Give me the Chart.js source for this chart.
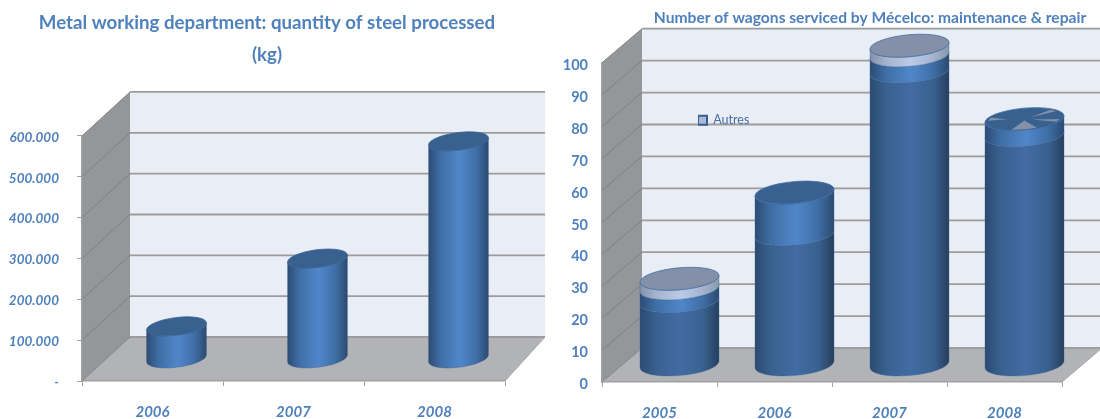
<!DOCTYPE html>
<html>
<head>
<meta charset="utf-8">
<script src="https://cdn.jsdelivr.net/npm/chart.js@4/dist/chart.umd.min.js"></script>
<style>
    html, body { margin: 0; padding: 0; background: #fff; overflow: hidden; }
    canvas { position: absolute; top: 0; filter: blur(0.35px); }
    #steelChart { left: 0; }
    #wagonChart { left: 550px; }
</style>
</head>
<body>
<canvas id="steelChart" width="550" height="419"></canvas>
<canvas id="wagonChart" width="550" height="419"></canvas>
<script>
const steelYears = ['2006', '2007', '2008'];
const steelKg = [80000, 246000, 533000];

const wagonYears = ['2005', '2006', '2007', '2008'];
const wagonsDark = [20, 41, 92, 72];
const wagonsMid = [4, 13, 5, 5];
const wagonsAutres = [3, 0, 3, 0];

const textBlue = '#4F81BD';
const midStops = ['#2C4C74', '#3F6EA5', '#5087CA', '#3F6EA5', '#2B4A70'];
const darkStops = ['#2B4A71', '#39618F', '#426CA3', '#39618F', '#263F5E'];
const autresStops = ['#8490A8', '#A5B3CE', '#BACAE8', '#A5B3CE', '#8799AB'];

// draws the walls, the grid on the back wall and the cylinders from the bar elements
const box3d = {
    id: 'box3d',
    afterLayout(chart, args, opts) {
        const t = chart.titleBlock;
        t.left = opts.titleX - 300;
        t.right = opts.titleX + 300;
        if (opts.legendAt) {
            const l = chart.legend;
            l.left = opts.legendAt[0];
            l.right = l.left + l.width;
            l.top = opts.legendAt[1];
            l.bottom = l.top + l.height;
        }
    },
    beforeDraw(chart, args, opts) {
        const ctx = chart.ctx;
        const a = chart.chartArea;
        const dx = opts.dx, dy = opts.dy;
        const backRight = a.right + dx - (opts.backInset || 0);
        ctx.save();
        ctx.fillStyle = '#94979A';
        poly(ctx, [[a.left, a.top], [a.left + dx, a.top + dy], [a.left + dx, a.bottom + dy], [a.left, a.bottom]]);
        ctx.fill();
        ctx.fillStyle = '#E9EDF6';
        ctx.fillRect(a.left + dx, a.top + dy, backRight - a.left - dx, a.bottom - a.top);
        ctx.fillStyle = '#B1B3B7';
        poly(ctx, [[a.left, a.bottom], [a.right, a.bottom], [backRight, a.bottom + dy], [a.left + dx, a.bottom + dy]]);
        ctx.fill();
        ctx.strokeStyle = '#A8A9AB';
        ctx.lineWidth = 1;
        ctx.beginPath();
        ctx.moveTo(a.right, a.bottom);
        ctx.lineTo(backRight, a.bottom + dy);
        ctx.stroke();

        const y = chart.scales.y;
        y.ticks.forEach(tick => {
            const py = y.getPixelForValue(tick.value);
            ctx.strokeStyle = '#7E8184';
            ctx.lineWidth = 1;
            ctx.beginPath();
            ctx.moveTo(a.left, py);
            ctx.lineTo(a.left + dx, py + dy);
            ctx.stroke();
            ctx.strokeStyle = '#9C9C9C';
            ctx.lineWidth = 1.8;
            ctx.beginPath();
            ctx.moveTo(a.left + dx, py + dy);
            ctx.lineTo(backRight, py + dy);
            ctx.stroke();
        });
        ctx.restore();
    },
    beforeDatasetsDraw(chart, args, opts) {
        const ctx = chart.ctx;
        const rot = -opts.tilt * Math.PI / 180;
        const n = chart.data.labels.length;
        for (let i = 0; i < n; i++) {
            let top = null;
            chart.data.datasets.forEach((ds, d) => {
                const bar = chart.getDatasetMeta(d).data[i];
                const p = bar.getProps(['x', 'y', 'base', 'width'], true);
                const cx = p.x + opts.dx / 2;
                const off = opts.dy / 2;
                const ra = p.width / 2 * 1.004;
                const rb = p.width * opts.flat;
                top = { cx, cy: p.y + off, ra, rb, ds, empty: ds.data[i] === 0, last: top };
                if (ds.data[i] === 0) return;
                const t0 = Math.atan(-(rb / ra) * Math.tan(rot));
                const g = ctx.createLinearGradient(cx - p.width / 2, 0, cx + p.width / 2, 0);
                [0, 0.2, 0.52, 0.8, 1].forEach((s, k) => g.addColorStop(s, ds.sideStops[k]));
                ctx.fillStyle = g;
                ctx.beginPath();
                ctx.ellipse(cx, p.y + off, ra, rb, rot, t0, t0 + Math.PI, false);
                ctx.ellipse(cx, p.base + off, ra, rb, rot, t0 + Math.PI, t0, true);
                ctx.closePath();
                ctx.fill();
                ctx.strokeStyle = ds.edgeColor;
                ctx.lineWidth = 0.6;
                ctx.stroke();
            });
            // top cap, on the highest series with a value
            let cap = top;
            while (cap.empty && cap.last) cap = cap.last;
            ctx.fillStyle = cap.ds.capColor;
            ctx.strokeStyle = opts.capEdge;
            ctx.lineWidth = 0.8;
            ctx.beginPath();
            ctx.ellipse(cap.cx, cap.cy, cap.ra, cap.rb, rot, 0, Math.PI * 2);
            ctx.fill();
            ctx.stroke();
            if (opts.wedgesOn === i) drawWedges(ctx, cap, rot);
        }
    },
    // the flat bars are replaced by the cylinders above
    beforeDatasetDraw() {
        return false;
    }
};

function poly(ctx, pts) {
    ctx.beginPath();
    pts.forEach((p, i) => i ? ctx.lineTo(p[0], p[1]) : ctx.moveTo(p[0], p[1]));
    ctx.closePath();
}

// grey slivers showing on the 2008 cap
function drawWedges(ctx, cap, rot) {
    const wedges = [[72, 112, 0.12], [18, 32, 0.2], [-44, -30, 0.2], [190, 206, 0.45]];
    ctx.save();
    ctx.translate(cap.cx, cap.cy);
    ctx.rotate(rot);
    ctx.scale(cap.ra, cap.rb);
    ctx.fillStyle = '#8490A8';
    wedges.forEach(w => {
        const a0 = w[0] * Math.PI / 180, a1 = w[1] * Math.PI / 180, mid = (a0 + a1) / 2;
        ctx.beginPath();
        ctx.moveTo(Math.cos(mid) * w[2], Math.sin(mid) * w[2]);
        ctx.arc(0, 0, 0.93, a0, a1);
        ctx.closePath();
        ctx.fill();
    });
    ctx.restore();
}

function axisX(height, size) {
    return {
        stacked: true,
        afterFit: s => { s.height = height; },
        border: { color: '#A0A0A0', width: 1.5 },
        grid: { drawOnChartArea: false, color: '#A0A0A0', tickLength: 5, offset: true },
        ticks: {
            color: textBlue,
            padding: 17,
            maxRotation: 0,
            font: { family: 'Lato', size: size, style: 'italic', weight: 'bold' }
        }
    };
}

new Chart(document.getElementById('steelChart'), {
    type: 'bar',
    data: {
        labels: steelYears,
        datasets: [{
            label: 'Steel processed',
            data: steelKg,
            backgroundColor: '#4F81BD',
            sideStops: midStops,
            capColor: '#38618F',
            edgeColor: 'rgba(50,85,130,0.6)',
            barPercentage: 60 / 141,
            categoryPercentage: 1
        }]
    },
    options: {
        responsive: false,
        animation: false,
        layout: { padding: { right: 45 } },
        scales: {
            x: axisX(38, 15),
            y: {
                min: 0,
                max: 600000,
                afterFit: s => { s.width = 82; },
                border: { color: '#A0A0A0', width: 1.5 },
                grid: { drawOnChartArea: false, color: '#A0A0A0', tickLength: 5 },
                ticks: {
                    stepSize: 100000,
                    padding: 18,
                    labelOffset: 1.5,
                    color: textBlue,
                    font: { family: 'Lato', size: 13.5, style: 'italic', weight: 'bold' },
                    callback: v => v === 0 ? '-' : String(v / 1000) + '.000'
                }
            }
        },
        plugins: {
            legend: { display: false },
            tooltip: { enabled: false },
            title: {
                display: true,
                text: ['Metal working department: quantity of steel processed', '(kg)'],
                color: textBlue,
                font: { family: 'Lato', size: 18.7, weight: 'bold', lineHeight: 1.71 },
                padding: { top: 7, bottom: 65 }
            },
            box3d: { dx: 48, dy: -44, backInset: 8, tilt: 7.3, flat: 0.146, titleX: 267, capEdge: '#38618F' }
        }
    },
    plugins: [box3d]
});

new Chart(document.getElementById('wagonChart'), {
    type: 'bar',
    data: {
        labels: wagonYears,
        datasets: [
            {
                label: 'Maintenance',
                data: wagonsDark,
                backgroundColor: '#3A6391',
                sideStops: darkStops,
                capColor: '#38618F',
                edgeColor: 'rgba(60,100,150,0.6)',
                barPercentage: 79 / 115,
                categoryPercentage: 1
            },
            {
                label: 'Repair',
                data: wagonsMid,
                backgroundColor: '#4F81BD',
                sideStops: midStops,
                capColor: '#38618F',
                edgeColor: 'rgba(60,100,150,0.6)',
                barPercentage: 79 / 115,
                categoryPercentage: 1
            },
            {
                label: 'Autres',
                data: wagonsAutres,
                backgroundColor: '#A9B8D8',
                borderColor: '#35608F',
                borderWidth: 2,
                sideStops: autresStops,
                capColor: '#8490A8',
                edgeColor: 'rgba(60,100,150,0.6)',
                barPercentage: 79 / 115,
                categoryPercentage: 1
            }
        ]
    },
    options: {
        responsive: false,
        animation: false,
        layout: { padding: { right: 38 } },
        scales: {
            x: axisX(37, 15),
            y: {
                stacked: true,
                min: 0,
                max: 100,
                afterFit: s => { s.width = 52; },
                border: { color: '#A0A0A0', width: 1.5 },
                grid: { drawOnChartArea: false, drawTicks: false },
                ticks: {
                    stepSize: 10,
                    padding: 14,
                    labelOffset: 2.5,
                    color: textBlue,
                    font: { family: 'Lato', size: 14.5, weight: 'bold' }
                }
            }
        },
        plugins: {
            tooltip: { enabled: false },
            legend: {
                position: 'chartArea',
                align: 'start',
                labels: {
                    filter: item => item.text === 'Autres',
                    boxWidth: 9,
                    boxHeight: 9,
                    padding: 0,
                    color: '#4A6FA0',
                    font: { family: 'Lato', size: 12.5 }
                }
            },
            title: {
                display: true,
                text: 'Number of wagons serviced by Mécelco: maintenance & repair',
                color: textBlue,
                font: { family: 'Lato', size: 15.6, weight: 'bold' },
                padding: { top: 9, bottom: 35 }
            },
            box3d: { dx: 40, dy: -34, tilt: 5.2, flat: 0.139, titleX: 320, capEdge: '#3F6DA3', wedgesOn: 3, legendAt: [148, 114] }
        }
    },
    plugins: [box3d]
});
</script>
</body>
</html>
